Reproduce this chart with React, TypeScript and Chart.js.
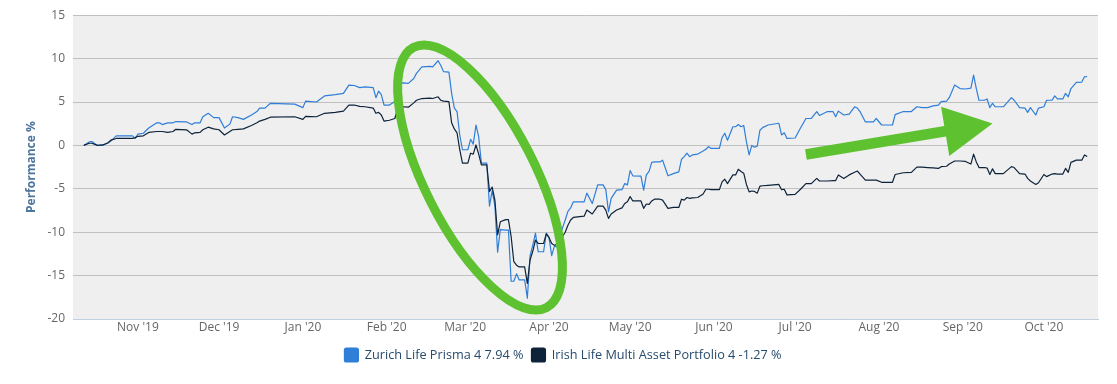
import React, { useEffect, useRef } from "react";
import { Chart, registerables } from "chart.js";

Chart.register(...registerables);

// ---------- data ----------
const DATES: string[] = [
  "2019-10-12", "2019-10-14", "2019-10-15", "2019-10-17", "2019-10-19", "2019-10-21", "2019-10-22", "2019-10-24", "2019-10-30", "2019-10-31",
  "2019-11-01", "2019-11-03", "2019-11-05", "2019-11-08", "2019-11-09", "2019-11-10", "2019-11-12", "2019-11-14", "2019-11-15", "2019-11-19", "2019-11-21", "2019-11-22", "2019-11-24", "2019-11-25", "2019-11-27", "2019-11-29",
  "2019-12-01", "2019-12-03", "2019-12-05", "2019-12-06", "2019-12-08", "2019-12-10", "2019-12-13", "2019-12-15", "2019-12-16", "2019-12-18", "2019-12-20", "2019-12-29",
  "2020-01-01", "2020-01-02", "2020-01-06", "2020-01-09", "2020-01-13", "2020-01-16", "2020-01-18", "2020-01-20", "2020-01-22", "2020-01-24", "2020-01-27", "2020-01-28", "2020-01-29", "2020-01-30", "2020-01-31",
  "2020-02-02", "2020-02-04", "2020-02-05", "2020-02-07", "2020-02-09", "2020-02-11", "2020-02-12", "2020-02-14", "2020-02-17", "2020-02-18", "2020-02-20", "2020-02-21", "2020-02-22", "2020-02-24", "2020-02-25", "2020-02-26", "2020-02-27", "2020-02-28", "2020-02-29",
  "2020-03-02", "2020-03-03", "2020-03-04", "2020-03-05", "2020-03-06", "2020-03-07", "2020-03-09", "2020-03-10", "2020-03-11", "2020-03-12", "2020-03-13", "2020-03-14", "2020-03-16", "2020-03-17", "2020-03-18", "2020-03-19", "2020-03-20", "2020-03-21", "2020-03-23", "2020-03-24", "2020-03-25", "2020-03-26", "2020-03-27", "2020-03-28", "2020-03-30", "2020-03-31",
  "2020-04-01", "2020-04-02", "2020-04-03", "2020-04-04", "2020-04-06", "2020-04-07", "2020-04-08", "2020-04-09", "2020-04-10", "2020-04-14", "2020-04-15", "2020-04-17", "2020-04-19", "2020-04-21", "2020-04-22", "2020-04-23", "2020-04-24", "2020-04-26", "2020-04-28", "2020-04-29", "2020-04-30",
  "2020-05-01", "2020-05-02", "2020-05-05", "2020-05-06", "2020-05-07", "2020-05-08", "2020-05-09", "2020-05-10", "2020-05-12", "2020-05-13", "2020-05-15", "2020-05-17", "2020-05-19", "2020-05-20", "2020-05-21", "2020-05-22", "2020-05-23", "2020-05-24", "2020-05-26", "2020-05-28", "2020-05-29", "2020-05-30", "2020-05-31",
  "2020-06-03", "2020-06-04", "2020-06-05", "2020-06-06", "2020-06-08", "2020-06-09", "2020-06-10", "2020-06-11", "2020-06-12", "2020-06-13", "2020-06-14", "2020-06-15", "2020-06-16", "2020-06-17", "2020-06-18", "2020-06-19", "2020-06-21", "2020-06-25", "2020-06-26", "2020-06-27", "2020-06-28",
  "2020-07-01", "2020-07-03", "2020-07-05", "2020-07-07", "2020-07-09", "2020-07-10", "2020-07-13", "2020-07-15", "2020-07-16", "2020-07-17", "2020-07-19", "2020-07-21", "2020-07-23", "2020-07-24", "2020-07-25", "2020-07-27", "2020-07-30", "2020-07-31",
  "2020-08-02", "2020-08-06", "2020-08-07", "2020-08-10", "2020-08-13", "2020-08-15", "2020-08-17", "2020-08-19", "2020-08-21", "2020-08-23", "2020-08-24", "2020-08-26", "2020-08-27", "2020-08-29", "2020-08-31",
  "2020-09-02", "2020-09-04", "2020-09-05", "2020-09-06", "2020-09-07", "2020-09-09", "2020-09-10", "2020-09-11", "2020-09-12", "2020-09-13", "2020-09-16", "2020-09-19", "2020-09-20", "2020-09-22", "2020-09-24", "2020-09-25", "2020-09-26", "2020-09-28", "2020-09-29",
  "2020-10-01", "2020-10-02", "2020-10-04", "2020-10-05", "2020-10-06", "2020-10-08", "2020-10-09", "2020-10-10", "2020-10-11", "2020-10-13", "2020-10-15", "2020-10-16", "2020-10-17",
];

const ZURICH: number[] = [
  0, 0.4, 0.45, 0, 0, 0.3, 0.5, 1.1, 1.1, 0.8,
  1.3, 1.4, 2.0, 2.6, 2.6, 2.4, 2.6, 2.6, 2.75, 2.7, 2.4, 2.6, 2.6, 3.3, 3.7, 3.2,
  3.2, 2.0, 2.45, 3.3, 3.2, 3.0, 3.5, 3.9, 4.3, 4.3, 4.85, 4.75,
  4.35, 5.1, 5.0, 5.7, 5.85, 6.0, 6.95, 6.9, 6.65, 6.75, 6.65, 5.5, 6.25, 5.85, 4.65,
  4.65, 5.05, 7.0, 7.2, 7.15, 7.7, 8.3, 9.05, 9.1, 9.05, 9.75, 9.2, 8.5, 8.45, 6.0, 4.3, 3.9, 1.2, -0.5,
  -0.5, 0.7, 0.15, 2.35, 1.0, -2.05, -2.05, -7.0, -5.2, -7.0, -12.3, -9.7, -9.75, -9.75, -15.65, -15.65, -14.8, -15.5, -15.5, -17.6, -12.7, -11.5, -10.1, -12.25, -12.25, -10.1,
  -10.6, -12.7, -11.6, -11.7, -9.5, -8.6, -7.6, -7.2, -6.5, -6.5, -5.5, -6.7, -4.55, -4.55, -5.1, -7.65, -6.1, -5.15, -5.1, -4.4, -4.55,
  -2.9, -3.5, -3.55, -5.15, -3.4, -3.0, -1.95, -1.9, -1.9, -1.7, -3.5, -3.25, -3.05, -1.6, -1.3, -0.9, -1.3, -1.1, -1.0, -0.65, -0.45, -0.15, -0.35,
  -0.35, 0.9, 1.4, 0.6, 2.15, 2.15, 2.4, 2.15, 2.3, 0.4, -1.1, 0.0, -0.2, -0.1, 1.75, 2.05, 2.35, 2.55, 1.2, 1.45, 0.8,
  0.85, 2.0, 3.1, 3.1, 3.9, 3.45, 3.9, 3.9, 3.3, 3.95, 3.5, 3.6, 4.45, 4.3, 3.9, 2.7, 2.7, 3.1,
  2.35, 2.35, 3.55, 3.9, 3.9, 4.45, 4.35, 4.35, 4.55, 4.65, 5.05, 5.1, 5.5, 6.95, 6.55,
  6.5, 6.6, 8.1, 6.55, 5.2, 5.2, 5.35, 4.35, 4.85, 4.45, 4.45, 5.5, 5.2, 4.35, 4.3, 3.8, 4.35, 3.5, 4.3,
  4.45, 5.2, 5.2, 5.7, 5.35, 5.35, 6.0, 5.6, 6.55, 7.25, 7.3, 7.9, 7.94,
];

const IRISH: number[] = [
  0, 0.25, 0.25, 0, 0.05, 0.3, 0.6, 0.8, 0.8, 0.9,
  1.05, 1.1, 1.5, 1.6, 1.6, 1.6, 1.5, 1.6, 1.85, 1.8, 1.3, 1.45, 1.5, 1.8, 2.1, 1.9,
  1.8, 1.2, 1.6, 1.8, 1.85, 1.9, 2.3, 2.6, 2.8, 3.0, 3.25, 3.3,
  3.0, 3.35, 3.3, 3.7, 3.8, 3.95, 4.65, 4.65, 4.5, 4.45, 4.3, 3.7, 3.8, 3.5, 2.8,
  2.9, 3.1, 4.2, 4.45, 4.4, 4.9, 5.2, 5.4, 5.45, 5.4, 5.6, 5.2, 5.1, 5.05, 2.6, 1.9, 1.45, -0.5, -2.05,
  -2.05, -0.9, -1.0, 0.05, -1.0, -2.25, -2.25, -5.3, -4.8, -6.3, -10.3, -8.8, -8.55, -8.55, -10.5, -13.4, -13.8, -14.0, -14.0, -15.9, -13.2, -12.2, -10.9, -11.3, -11.3, -10.2,
  -10.6, -11.3, -11.5, -11.4, -10.5, -10.0, -9.2, -8.6, -8.3, -8.15, -7.45, -7.9, -7.0, -7.0, -7.45, -8.4, -7.9, -7.45, -7.2, -6.7, -6.5,
  -5.9, -6.4, -6.4, -7.25, -6.75, -6.8, -6.4, -6.2, -6.2, -6.3, -7.25, -7.15, -7.15, -6.2, -6.3, -6.0, -6.1, -6.05, -6.0, -5.6, -5.05, -5.05, -5.1,
  -5.1, -4.2, -3.9, -4.4, -3.4, -3.4, -2.75, -3.0, -3.2, -4.5, -5.35, -5.25, -5.3, -5.5, -4.7, -4.65, -4.6, -4.5, -5.1, -5.05, -5.7,
  -5.65, -5.05, -4.4, -4.4, -3.8, -4.1, -4.1, -4.05, -4.05, -3.4, -3.8, -3.4, -3.1, -2.95, -3.3, -4.0, -4.0, -4.0,
  -4.25, -4.25, -3.35, -3.15, -3.1, -2.5, -2.5, -2.55, -2.6, -2.65, -2.45, -2.4, -2.15, -1.8, -1.8,
  -1.85, -2.15, -1.0, -1.9, -2.55, -2.55, -2.6, -3.35, -2.7, -3.25, -3.25, -2.45, -2.55, -3.25, -3.3, -3.8, -4.1, -4.5, -4.3,
  -3.35, -3.6, -3.3, -3.25, -3.3, -3.3, -2.65, -3.1, -1.95, -1.7, -1.7, -1.1, -1.27,
];

const SERIES_NAMES = ["Zurich Life Prisma 4 7.94 %", "Irish Life Multi Asset Portfolio 4 -1.27 %"];

const MONTH_TICKS = [
  "2019-11-01", "2019-12-01", "2020-01-01", "2020-02-01", "2020-03-01", "2020-04-01",
  "2020-05-01", "2020-06-01", "2020-07-01", "2020-08-01", "2020-09-01", "2020-10-01",
];
const MONTH_LABELS = [
  "Nov '19", "Dec '19", "Jan '20", "Feb '20", "Mar '20", "Apr '20",
  "May '20", "Jun '20", "Jul '20", "Aug '20", "Sep '20", "Oct '20",
];
const X_RANGE = ["2019-10-08", "2020-10-21"];
const Y_MIN = -20;
const Y_MAX = 15;
const Y_STEP = 5;
const Y_TITLE = "Performance %";

// annotation anchors (date, value)
const ELLIPSE_DATES = ["2020-02-11", "2020-03-31"];
const ELLIPSE_VALUES = [11.3, -18.7];
const ARROW_DATES = ["2020-07-05", "2020-09-12"];
const ARROW_VALUES = [-1.04, 2.53];

// ---------- styles ----------
const FONT = "'Lucida Grande', 'Lucida Sans Unicode', 'Open Sans', 'Liberation Sans', Arial, sans-serif";
const BLUE = "#2f7ed8";
const NAVY = "#0d233a";
const GREEN = "#5ec12f";
const LEGEND_SHIFT = 14;

const dayNum = (s: string) => {
  const [y, m, d] = s.split("-").map(Number);
  return Date.UTC(y, m - 1, d) / 86400000;
};

const decorPlugin = {
  id: "decor",
  afterLayout(chart: any) {
    if (chart.legend) {
      chart.legend.left += LEGEND_SHIFT;
      chart.legend.right += LEGEND_SHIFT;
    }
  },
  beforeDraw(chart: any) {
    const { ctx, chartArea: a } = chart;
    ctx.save();
    ctx.fillStyle = "#efefef";
    ctx.fillRect(a.left, a.top, a.right - a.left, a.bottom - a.top);
    ctx.restore();
  },
  afterDatasetsDraw(chart: any) {
    const { ctx } = chart;
    const xs = chart.scales.x;
    const ys = chart.scales.y;
    const p = (d: string, v: number) => ({ x: xs.getPixelForValue(dayNum(d)), y: ys.getPixelForValue(v) });
    ctx.save();
    // ellipse
    const e1 = p(ELLIPSE_DATES[0], ELLIPSE_VALUES[0]);
    const e2 = p(ELLIPSE_DATES[1], ELLIPSE_VALUES[1]);
    const cx = (e1.x + e2.x) / 2;
    const cy = (e1.y + e2.y) / 2;
    const ang = Math.atan2(e2.y - e1.y, e2.x - e1.x);
    const semi = Math.hypot(e2.x - e1.x, e2.y - e1.y) / 2;
    ctx.strokeStyle = GREEN;
    ctx.lineWidth = 9;
    ctx.beginPath();
    ctx.ellipse(cx, cy, semi, 55, ang, 0, Math.PI * 2);
    ctx.stroke();
    // arrow
    const t = p(ARROW_DATES[0], ARROW_VALUES[0]);
    const h = p(ARROW_DATES[1], ARROW_VALUES[1]);
    const len = Math.hypot(h.x - t.x, h.y - t.y);
    const ux = (h.x - t.x) / len;
    const uy = (h.y - t.y) / len;
    const nx = -uy;
    const ny = ux;
    const headLen = 48;
    const headHalf = 25;
    const shaftHalf = 5.3;
    const bx = h.x - ux * headLen;
    const by = h.y - uy * headLen;
    ctx.fillStyle = GREEN;
    ctx.beginPath();
    ctx.moveTo(t.x + nx * shaftHalf, t.y + ny * shaftHalf);
    ctx.lineTo(bx + nx * shaftHalf, by + ny * shaftHalf);
    ctx.lineTo(bx + nx * headHalf, by + ny * headHalf);
    ctx.lineTo(h.x, h.y);
    ctx.lineTo(bx - nx * headHalf, by - ny * headHalf);
    ctx.lineTo(bx - nx * shaftHalf, by - ny * shaftHalf);
    ctx.lineTo(t.x - nx * shaftHalf, t.y - ny * shaftHalf);
    ctx.closePath();
    ctx.fill();
    ctx.restore();
  },
};

export default function App() {
  const ref = useRef<HTMLCanvasElement | null>(null);

  useEffect(() => {
    document.body.style.margin = "0";
    if (!ref.current) return;
    const xVals = DATES.map(dayNum);
    const chart = new Chart(ref.current, {
      type: "line",
      data: {
        datasets: [
          {
            label: SERIES_NAMES[0],
            data: xVals.map((x, i) => ({ x, y: ZURICH[i] })),
            borderColor: BLUE,
            backgroundColor: BLUE,
            borderWidth: 1.2,
            pointRadius: 0,
            tension: 0,
            borderJoinStyle: "round",
            order: 1,
          },
          {
            label: SERIES_NAMES[1],
            data: xVals.map((x, i) => ({ x, y: IRISH[i] })),
            borderColor: NAVY,
            backgroundColor: NAVY,
            borderWidth: 1.2,
            pointRadius: 0,
            tension: 0,
            borderJoinStyle: "round",
            order: 0,
          },
        ],
      },
      options: {
        responsive: false,
        maintainAspectRatio: false,
        devicePixelRatio: 1,
        animation: false,
        layout: { padding: { top: 15, right: 19, bottom: 12, left: 0 } },
        scales: {
          x: {
            type: "linear",
            min: dayNum(X_RANGE[0]),
            max: dayNum(X_RANGE[1]),
            afterBuildTicks: (s: any) => {
              s.ticks = MONTH_TICKS.map((t) => ({ value: dayNum(t) }));
            },
            afterFit: (s: any) => {
              s.height = 21;
            },
            ticks: {
              autoSkip: false,
              maxRotation: 0,
              padding: 1,
              color: "#666666",
              font: { family: FONT, size: 12 },
              callback: (_v: any, i: number) => MONTH_LABELS[i] ?? "",
            },
            grid: { display: false, drawTicks: false },
            border: { display: true, color: "#c0d0e0", width: 1 },
          },
          y: {
            min: Y_MIN,
            max: Y_MAX,
            afterFit: (s: any) => {
              s.width = 73;
            },
            ticks: {
              stepSize: Y_STEP,
              padding: 8,
              color: "#666666",
              font: { family: FONT, size: 12 },
            },
            grid: { color: "#c0c0c0", lineWidth: 1, drawTicks: false },
            border: { display: false },
            title: {
              display: true,
              text: Y_TITLE,
              color: "#4d759e",
              font: { family: FONT, size: 12, weight: "bold" },
              padding: { top: 24, bottom: 0 },
            },
          },
        },
        plugins: {
          tooltip: { enabled: false },
          legend: {
            position: "bottom",
            labels: {
              boxWidth: 14,
              boxHeight: 14,
              padding: 8,
              color: "#274b6d",
              font: { family: FONT, size: 12.7 },
              useBorderRadius: true,
              borderRadius: 2,
              sort: (a: any, b: any) => a.datasetIndex - b.datasetIndex,
            },
          },
        },
      },
      plugins: [decorPlugin],
    } as any);
    return () => chart.destroy();
  }, []);

  return (
    <div style={{ width: 1117, height: 384, position: "relative" }}>
      <canvas ref={ref} width={1117} height={384} />
    </div>
  );
}
